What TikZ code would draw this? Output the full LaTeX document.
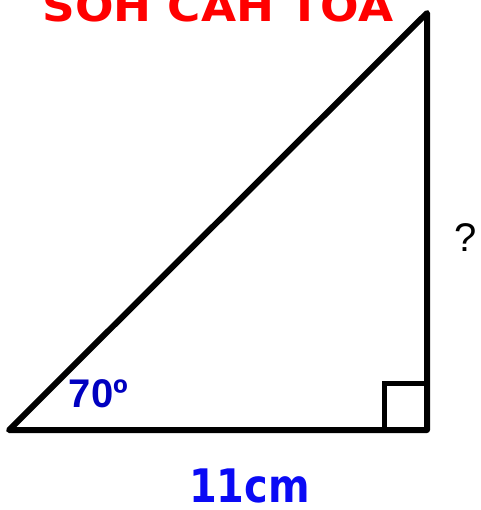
\documentclass[tikz,border=0pt]{standalone}
\usepackage{fontspec}
\setmainfont{DejaVu Sans}
\newfontfamily\arialfont{Liberation Sans}
\definecolor{titlered}{RGB}{255,0,0}
\definecolor{angblue}{RGB}{0,0,192}
\definecolor{lenblue}{RGB}{10,10,245}
\begin{document}
\begin{tikzpicture}[x=1pt,y=-1pt,
  edge/.style={line width=6pt,line join=round,line cap=round,black},
  sq/.style={line width=5pt,black},
  lbl/.style={inner sep=0pt,anchor=base}]
\useasboundingbox (0,0) rectangle (480,510);
\coordinate (A) at (9,430);
\coordinate (B) at (427,430);
\coordinate (C) at (427,13);
\coordinate (S1) at (384,430);
\coordinate (S2) at (384,383);
\coordinate (S3) at (427,383);
\draw[edge] (A) -- (B) -- (C) -- cycle;
\draw[sq] (S1) -- (S2) -- (S3);
\node[lbl,text=titlered] (title) at (218,22) {\scalebox{1.08}[1]{\fontsize{42}{42}\selectfont\bfseries SOH CAH TOA}};
\node[lbl,text=angblue] (ang) at (98.5,407) {\fontsize{40}{40}\selectfont\arialfont\bfseries 70º};
\node[lbl,text=lenblue] (len) at (249.5,502) {\scalebox{0.95}[1.1]{\fontsize{42}{42}\selectfont\bfseries 11cm}};
\node[lbl] (q) at (466,251) {\fontsize{40}{40}\selectfont\arialfont ?};
\end{tikzpicture}
\end{document}
